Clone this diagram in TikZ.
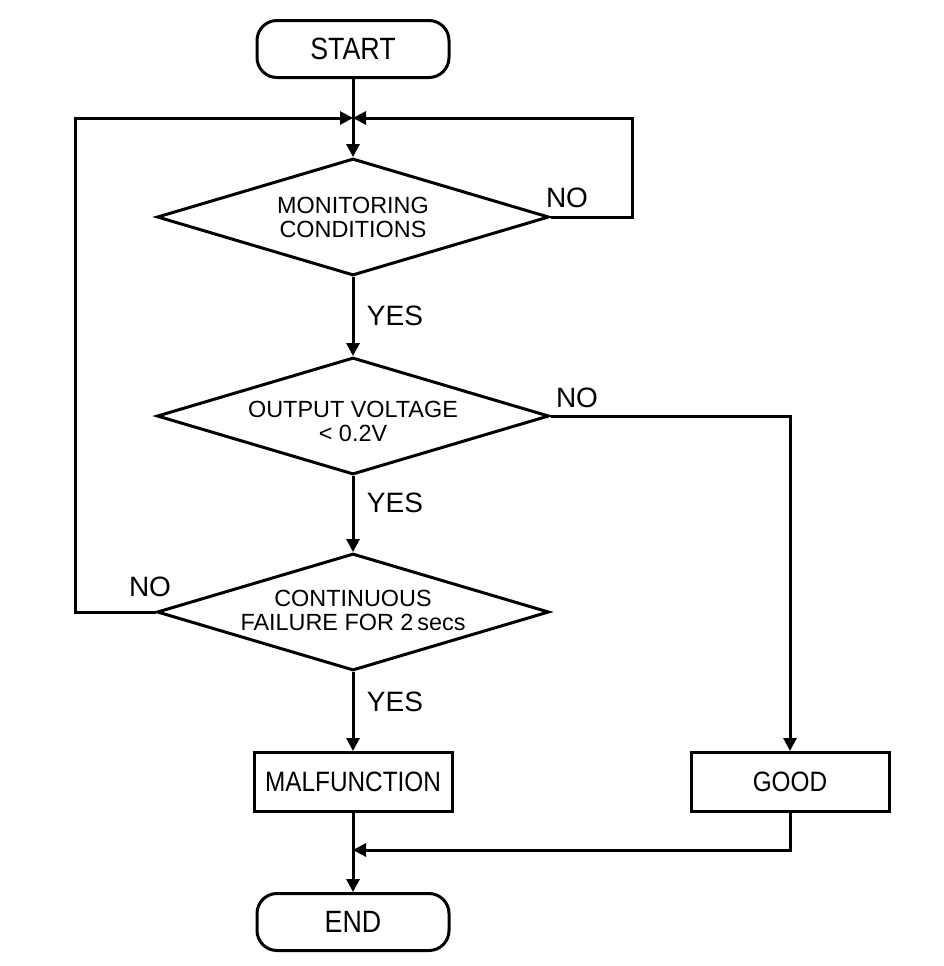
\documentclass[tikz,border=0pt]{standalone}
\usepackage{fontspec}
\setmainfont{Liberation Sans}
\newfontfamily\narrowfont{Liberation Sans}[FakeStretch=0.87]
\usetikzlibrary{arrows.meta, shapes, calc}

\begin{document}
\begin{tikzpicture}[x=0.5pt, y=-0.5pt, line width=1.5pt,
    terminal/.style={draw, rectangle, rounded corners=10pt, minimum width=96pt, minimum height=28.5pt, inner sep=0pt, font=\narrowfont\fontsize{15.4}{18}\selectfont},
    process/.style={draw, rectangle, minimum width=99pt, minimum height=29.5pt, inner sep=0pt, font=\narrowfont\fontsize{14}{16}\selectfont},
    decision/.style={draw, diamond, minimum width=196pt, minimum height=58.5pt, inner sep=0pt},
    dtext/.style={align=center, font=\fontsize{11.7}{12}\selectfont},
    answer/.style={font=\fontsize{14}{16}\selectfont},
    flow/.style={-{Triangle[length=6.5pt, width=6.5pt]}}]
  \useasboundingbox (0,0) rectangle (944,966);

  % Boxes
  \node[terminal] (start) at (353,49) {START};
  \node[decision] (mon) at (353,217) {};
  \node[dtext] (mon-text) at (353,217) {MONITORING\\CONDITIONS};
  \node[decision] (volt) at (353,416) {};
  \node[dtext] (volt-text) at (353,421) {OUTPUT VOLTAGE\\< 0.2V};
  \node[decision] (fail) at (353,612) {};
  \node[dtext] (fail-text) at (353,610) {CONTINUOUS\\FAILURE FOR 2\,secs};
  \node[process] (malf) at (353,782) {MALFUNCTION};
  \node[process] (good) at (790,782) {GOOD};
  \node[terminal] (stop) at (353,922) {END};

  % Junctions
  \coordinate (merge) at (353,118);
  \coordinate (rloop) at (632,118);
  \coordinate (lloop) at (75,118);
  \coordinate (join) at (353,850);

  % Connectors
  \draw (start.south) -- (merge);
  \draw[flow] (merge) -- (mon.north);
  \draw[flow] (mon.east) -| (rloop) -- (merge);
  \draw[flow] (fail.west) -| (lloop) -- (merge);
  \draw[flow] (mon.south) -- (volt.north);
  \draw[flow] (volt.east) -| (good.north);
  \draw[flow] (volt.south) -- (fail.north);
  \draw[flow] (fail.south) -- (malf.north);
  \draw[flow] (malf.south) -- (stop.north);
  \draw[flow] (good.south) |- (join);

  % Labels
  \node[answer] (no1) at (567,198) {NO};
  \node[answer] (yes1) at (395,316) {YES};
  \node[answer] (no2) at (577,398) {NO};
  \node[answer] (yes2) at (395,503) {YES};
  \node[answer] (no3) at (150,587) {NO};
  \node[answer] (yes3) at (395,702) {YES};
\end{tikzpicture}
\end{document}
